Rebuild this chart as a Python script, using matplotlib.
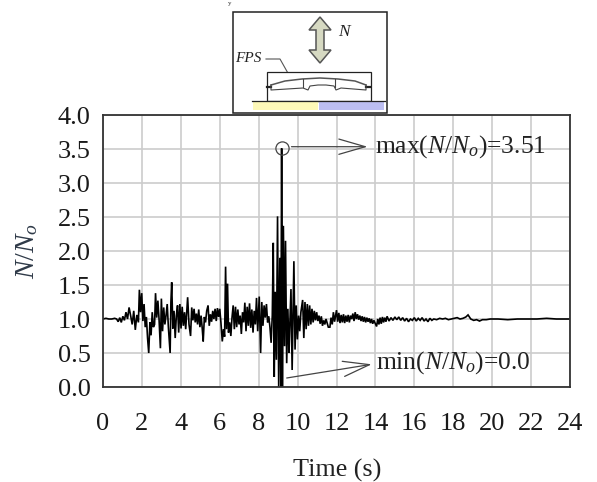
import matplotlib
matplotlib.use("Agg")
import matplotlib.pyplot as plt
from matplotlib.patches import Polygon, Rectangle, FancyArrowPatch

plt.rcParams['font.family'] = ['Liberation Serif', 'DejaVu Serif']
plt.rcParams['mathtext.fontset'] = 'custom'
plt.rcParams['mathtext.rm'] = 'Liberation Serif'
plt.rcParams['mathtext.it'] = 'Liberation Serif:italic'

time_s = [
 0.00,0.15,0.30,0.45,0.60,0.70,0.78,0.86,0.94,1.02,1.10,1.18,1.26,1.34,1.42,1.50,1.58,1.66,1.74,1.82,
 1.87,1.93,1.99,2.05,2.11,2.17,2.23,2.29,2.35,2.41,2.47,2.53,2.59,2.65,2.70,2.76,2.82,2.88,2.95,3.00,
 3.06,3.12,3.18,3.24,3.30,3.36,3.45,3.49,3.53,3.59,3.65,3.71,3.77,3.83,3.89,3.95,4.01,4.07,4.13,4.19,
 4.25,4.35,4.42,4.50,4.56,4.62,4.68,4.74,4.80,4.86,4.92,4.98,5.04,5.10,5.15,5.21,5.27,5.33,5.40,5.46,
 5.52,5.58,5.64,5.70,5.76,5.82,5.88,5.94,6.00,6.06,6.13,6.19,6.25,6.30,6.35,6.40,6.45,6.51,6.57,6.63,
 6.69,6.75,6.81,6.87,6.93,6.99,7.05,7.11,7.17,7.23,7.29,7.35,7.41,7.47,7.53,7.59,7.65,7.71,7.77,7.83,
 7.89,7.95,8.03,8.10,8.16,8.22,8.28,8.34,8.40,8.46,8.52,8.58,8.64,8.70,8.75,8.80,8.85,8.91,8.97,9.03,
 9.09,9.14,9.18,9.22,9.27,9.33,9.38,9.44,9.50,9.56,9.60,9.66,9.72,9.77,9.81,9.87,9.93,9.99,10.05,10.11,
 10.17,10.26,10.32,10.38,10.44,10.50,10.56,10.62,10.68,10.74,10.80,10.86,10.92,10.98,11.04,11.10,11.16,11.22,11.28,11.34,
 11.40,11.46,11.52,11.58,11.66,11.72,11.78,11.84,11.90,12.00,12.06,12.12,12.18,12.24,12.30,12.36,12.42,12.48,12.54,12.60,
 12.66,12.72,12.78,12.84,12.90,12.96,13.02,13.08,13.14,13.20,13.26,13.32,13.38,13.44,13.50,13.56,13.62,13.68,13.74,13.80,
 13.86,13.92,14.06,14.12,14.18,14.24,14.30,14.36,14.42,14.48,14.54,14.60,14.70,14.80,14.90,15.00,15.10,15.20,15.30,15.40,
 15.50,15.60,15.70,15.80,15.90,16.00,16.10,16.20,16.30,16.40,16.50,16.60,16.70,16.80,16.90,17.00,17.15,17.30,17.45,17.60,
 17.75,17.90,18.05,18.20,18.35,18.50,18.65,18.76,18.90,19.05,19.20,19.35,19.50,19.70,19.90,20.30,20.80,21.30,21.80,22.30,
 22.80,23.30,24.00]
n_ratio = [
 1.00,1.01,1.00,1.00,1.01,1.00,0.96,1.02,0.95,1.04,0.98,1.10,1.00,1.17,1.05,0.92,1.12,0.84,1.06,0.95,
 1.43,1.10,1.38,0.97,1.22,0.88,1.03,0.72,0.50,0.95,0.76,1.10,0.88,0.92,1.38,1.02,1.27,1.00,0.57,1.30,
 0.82,1.17,0.92,1.05,1.22,0.88,0.50,1.25,1.54,0.86,1.12,0.72,1.05,1.20,0.80,1.22,0.86,1.18,0.90,1.10,
 0.85,1.32,0.92,0.75,1.17,0.98,1.15,0.95,1.08,0.92,1.14,0.88,1.05,0.86,0.67,1.03,0.95,1.12,1.20,0.90,
 1.07,0.96,1.12,1.00,1.15,0.97,1.16,1.03,1.15,0.95,0.67,0.85,0.74,1.77,0.85,1.52,0.80,0.95,0.75,1.02,
 1.20,0.85,1.18,0.88,1.14,0.92,1.05,0.78,1.10,0.95,1.24,0.82,1.18,0.90,1.23,0.87,1.14,0.80,1.12,0.92,
 1.31,0.82,1.33,0.50,1.25,0.90,1.20,1.02,1.22,0.95,1.04,0.88,0.65,1.05,2.12,0.15,1.40,0.40,2.51,0.00,
 1.90,0.00,3.51,0.00,2.37,0.60,2.15,0.35,1.15,0.50,0.90,1.44,0.25,1.10,1.85,0.55,1.20,0.70,1.05,0.82,
 1.10,1.28,0.72,1.25,0.85,1.22,0.90,1.20,0.92,1.15,0.95,1.12,0.98,1.10,0.97,1.05,0.93,1.04,0.90,0.98,
 0.92,1.00,0.94,0.88,0.88,1.02,0.92,1.10,0.96,1.13,0.96,1.09,0.94,1.06,0.95,1.07,0.94,1.05,0.96,1.06,
 0.95,1.05,1.00,1.08,0.97,1.10,1.00,1.07,0.99,1.05,0.97,1.04,0.96,1.03,0.95,1.02,0.96,1.01,0.94,1.00,
 0.93,0.98,0.89,1.00,0.92,1.02,0.93,1.03,0.95,1.02,0.96,1.04,0.97,1.02,0.98,1.03,0.99,1.03,0.98,1.02,
 0.97,1.01,0.96,1.00,0.98,1.02,0.97,1.01,0.98,1.02,0.97,1.00,0.96,1.01,0.98,1.00,0.99,1.01,1.00,1.01,
 0.99,1.00,1.01,1.02,1.00,1.01,1.03,1.06,1.00,0.98,0.99,0.97,0.99,0.99,1.00,1.00,0.99,1.00,1.00,1.00,
 1.01,1.00,1.00]

x_ticks = [0,2,4,6,8,10,12,14,16,18,20,22,24]
y_ticks = [0.0,0.5,1.0,1.5,2.0,2.5,3.0,3.5,4.0]

W, H = 597, 482
fig = plt.figure(figsize=(W/100, H/100), dpi=100)
ax = fig.add_axes([103/W, 1-387/H, 467/W, 272/H])
ax.plot(time_s, n_ratio, color='black', lw=1.2, solid_joinstyle='miter')
ax.set_xlim(0, 24)
ax.set_ylim(0, 4)
ax.set_xticks(x_ticks)
ax.set_yticks(y_ticks, [f'{v:.1f}' for v in y_ticks])
ax.grid(True, color='#cccccc', lw=1.2)
ax.set_axisbelow(True)
ax.tick_params(axis='y', length=0, labelsize=19, labelcolor='#1a1a1a', pad=9)
ax.tick_params(axis='x', length=0, labelsize=19, labelcolor='#1a1a1a', pad=19)
for s in ['top', 'left', 'bottom', 'right']:
    ax.spines[s].set_color('#333333')
    ax.spines[s].set_linewidth(1.3)

ov = fig.add_axes([0, 0, 1, 1], facecolor='none')
ov.set_xlim(0, W)
ov.set_ylim(H, 0)
ov.axis('off')

tc = '#222222'
ov.text(27, 251, r'$\mathit{N/N}_{o}$', rotation=90, ha='center', va='center', fontsize=20, color='#2f3a48')
ov.text(337, 476.5, 'Time (s)', ha='center', va='baseline', fontsize=18.8, color=tc)
ov.text(375, 153, r'max($\mathit{N/N}_{o}$)=3.51', ha='left', va='baseline', fontsize=18.4, color=tc)
ov.text(376, 369, r'min($\mathit{N/N}_{o}$)=0.0', ha='left', va='baseline', fontsize=18.4, color=tc)

ov.plot([282.3], [148.3], 'o', ms=9.5, mfc='none', mec='#444444', mew=0.9)
arrow = dict(arrowstyle='->,head_length=1.9,head_width=0.55', color='#444444', lw=0.9, shrinkA=0, shrinkB=0, mutation_scale=10)
ov.add_patch(FancyArrowPatch((291.5, 146.7), (367.5, 146.7), **arrow))
ov.add_patch(FancyArrowPatch((286.7, 378), (371.7, 364.3), **arrow))

ov.add_patch(Rectangle((232.7, 11.7), 154.3, 101.5, fc='white', ec='#222222', lw=1.1, zorder=3))
ov.add_patch(Polygon([(320,17),(309,30),(316,30),(316,50),(309,50),(320,63),(331,50),(324,50),(324,30),(331,30)],
                     closed=True, fc='#d6d9c2', ec='#555555', lw=1.1, zorder=4))
ov.text(344, 32, 'N', style='italic', fontsize=12.5, ha='center', va='center', color=tc, zorder=4)
ov.text(248.7, 58, 'FPS', style='italic', fontsize=11, ha='center', va='center', color=tc, zorder=4)
ov.plot([266, 280, 289], [59, 59, 75], color='#555555', lw=0.8, zorder=4)
ov.add_patch(Rectangle((266.5, 71.5), 104, 29.5, fc='white', ec='#222222', lw=0.9, zorder=4))
ov.add_patch(Rectangle((253, 102), 65, 8, fc='#fdf8b8', ec='none', zorder=4))
ov.add_patch(Rectangle((319, 102), 65, 8, fc='#bcbef2', ec='none', zorder=4))
ov.plot([252, 385], [101, 101], color='#222222', lw=0.9, zorder=5)
ov.plot([271,285,302,320,338,355,366], [85,81,79,78,79,81,85], color='#555555', lw=1.1, zorder=5)
ov.plot([267,271], [87,87], color='#222222', lw=1.6, zorder=5)
ov.plot([366,370], [87,87], color='#222222', lw=1.6, zorder=5)
ov.plot([271,271,303,308,310,318,326,334,336,341,366,366], [85,90,88,90,86,85,85,86,90,88,90,85], color='#444444', lw=0.8, zorder=5)
ov.plot([303,303], [79,87], color='#444444', lw=0.8, zorder=5)
ov.plot([335,335], [79,87], color='#444444', lw=0.8, zorder=5)

ov.text(230, 3, 'y', fontsize=5, ha='center', va='center', color=tc)

fig.savefig('out.png', dpi=100)
